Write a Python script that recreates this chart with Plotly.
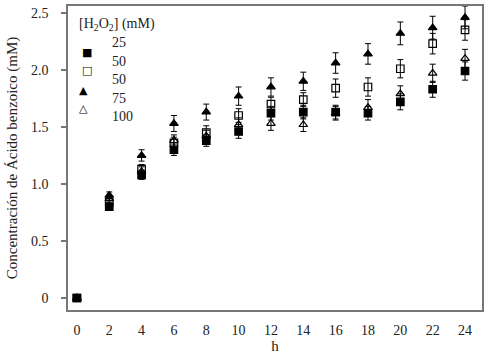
import plotly.graph_objects as go

hours = [0, 2, 4, 6, 8, 10, 12, 14, 16, 18, 20, 22, 24]

# series values (mM benzoic acid)
c25 = [0.0, 0.80, 1.08, 1.30, 1.38, 1.46, 1.62, 1.63, 1.63, 1.62, 1.72, 1.83, 1.99]
c50 = [0.0, 0.84, 1.13, 1.36, 1.45, 1.60, 1.70, 1.74, 1.84, 1.85, 2.01, 2.23, 2.35]
c75 = [0.0, 0.90, 1.25, 1.53, 1.63, 1.77, 1.85, 1.90, 2.06, 2.14, 2.32, 2.37, 2.46]
c100 = [0.0, 0.87, 1.11, 1.38, 1.42, 1.52, 1.53, 1.52, 1.62, 1.67, 1.79, 1.97, 2.10]

e25 = [0.02, 0.03, 0.04, 0.05, 0.05, 0.06, 0.06, 0.06, 0.06, 0.06, 0.07, 0.07, 0.08]
e50 = [0.02, 0.03, 0.04, 0.05, 0.06, 0.06, 0.06, 0.06, 0.08, 0.08, 0.08, 0.09, 0.09]
e75 = [0.02, 0.03, 0.05, 0.07, 0.07, 0.08, 0.08, 0.08, 0.09, 0.09, 0.10, 0.10, 0.10]
e100 = [0.02, 0.03, 0.04, 0.05, 0.05, 0.06, 0.06, 0.06, 0.06, 0.07, 0.07, 0.08, 0.08]

legend_title = "[H<sub>2</sub>O<sub>2</sub>] (mM)"
legend_labels = ["25", "50", "50", "75", "100"]
legend_glyphs = ["■", "□", "▲", "△"]

x_ticks = list(range(0, 25, 2))
y_ticks = [0, 0.5, 1.0, 1.5, 2.0, 2.5]
y_tick_text = ["0", "0.5", "1.0", "1.5", "2.0", "2.5"]

FONT = "Liberation Serif"

fig = go.Figure()

series = [
    (c100, e100, "triangle-up-open", "100"),
    (c25, e25, "square", "25"),
    (c50, e50, "square-open", "50"),
    (c75, e75, "triangle-up", "75"),
]
for vals, errs, sym, name in series:
    fig.add_trace(go.Scatter(
        x=hours, y=vals, mode="markers", name=name,
        marker=dict(symbol=sym, size=7.5, color="black",
                    line=dict(color="black", width=1.2)),
        error_y=dict(type="data", array=errs, visible=True,
                     color="black", thickness=1, width=3),
        showlegend=False,
    ))

W, H = 488, 355
L, R, T, B = 68, 4, 5, 45
pw, ph = W - L - R, H - T - B

def px(x):
    return (x - L) / pw

def py(y):
    return (H - B - y) / ph

ann = []
ann.append(dict(text=legend_title, x=px(77), y=py(24), xref="paper", yref="paper",
                xanchor="left", yanchor="middle", showarrow=False,
                font=dict(family=FONT, size=14, color="#222")))
label_y = [42, 61, 79, 98, 116]
for lab, yy in zip(legend_labels, label_y):
    ann.append(dict(text=lab, x=px(110), y=py(yy), xref="paper", yref="paper",
                    xanchor="left", yanchor="middle", showarrow=False,
                    font=dict(family=FONT, size=14, color="#222")))
glyph_pos = [(87, 52), (87, 70), (84, 90), (84, 108)]
for g, (gx, gy) in zip(legend_glyphs, glyph_pos):
    ann.append(dict(text=g, x=px(gx), y=py(gy), xref="paper", yref="paper",
                    xanchor="center", yanchor="middle", showarrow=False,
                    font=dict(family="DejaVu Sans", size=11, color="black")))

fig.update_layout(
    width=W, height=H,
    margin=dict(l=L, r=R, t=T, b=B),
    paper_bgcolor="white", plot_bgcolor="white",
    font=dict(family=FONT, size=14, color="#222"),
    annotations=ann,
    xaxis=dict(range=[-0.55, 25.05], tickvals=x_ticks, ticks="",
               showgrid=False, zeroline=False, showline=True, mirror=True,
               linecolor="#777", linewidth=1.5, ticklabelstandoff=6,
               tickfont=dict(family=FONT, size=14, color="#222"),
               title=dict(text="h", standoff=2,
                          font=dict(family=FONT, size=15, color="#222"))),
    yaxis=dict(range=[-0.105, 2.56], tickvals=y_ticks, ticktext=y_tick_text,
               ticks="outside", ticklen=5, tickcolor="#777", tickwidth=1.5,
               showgrid=False, zeroline=False, showline=True, mirror=True,
               linecolor="#777", linewidth=1.5, ticklabelstandoff=10,
               tickfont=dict(family=FONT, size=14, color="#222"),
               title=dict(text="Concentración de Ácido benzoico (mM)", standoff=10,
                          font=dict(family=FONT, size=15, color="#222"))),
)

fig.write_html("out.html", config={"displayModeBar": False},
               post_script="document.body.style.margin='0';document.body.style.overflow='hidden';")
